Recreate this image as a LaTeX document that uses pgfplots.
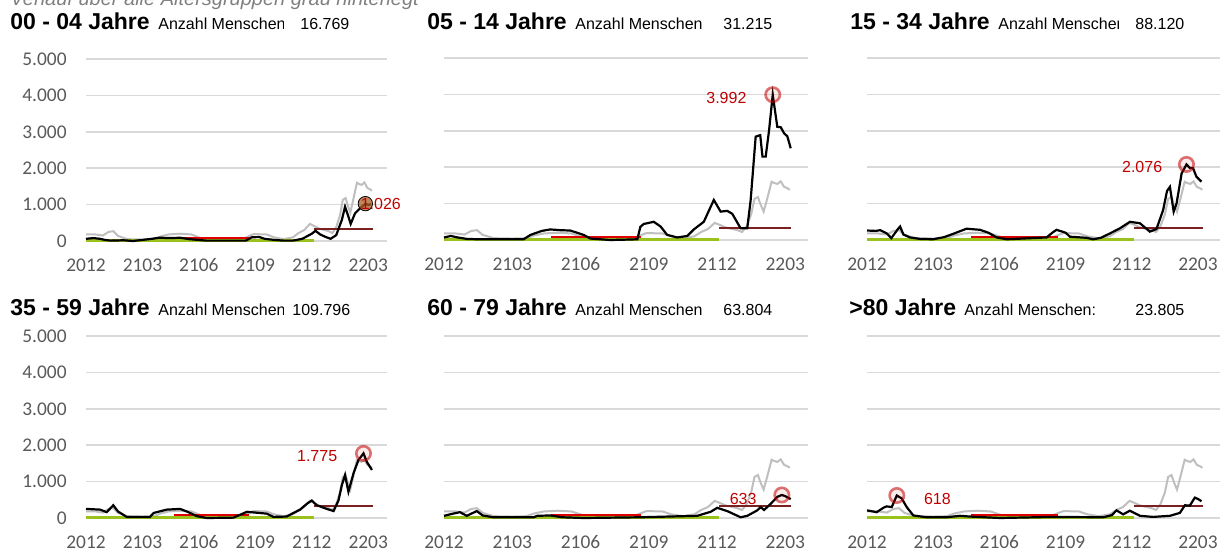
\documentclass[border=0pt]{standalone}
\usepackage{pgfplots}
\pgfplotsset{compat=1.18}
\usepackage{pgfplotstable}
\usepackage{fontspec}
\setmainfont{Liberation Sans}
\newfontfamily\calibri{Carlito}
\definecolor{tickgray}{HTML}{595959}
\definecolor{gridgray}{HTML}{D9D9D9}
\definecolor{avggray}{HTML}{BFBFBF}
\definecolor{lblred}{HTML}{C00000}
\definecolor{thrgreen}{HTML}{9BC21C}
\definecolor{thrred}{HTML}{E00000}
\definecolor{thrmaroon}{HTML}{7B2020}

% Verlauf ueber alle Altersgruppen (grau)
\pgfplotstableread{
x y
0 180
0.5 180
0.9 150
1.2 250
1.45 270
1.7 140
2.2 50
3.0 40
3.6 50
4.0 130
4.4 180
5.0 200
5.6 180
6.1 80
6.5 40
7.5 30
8.3 40
8.6 120
8.9 190
9.6 180
10.0 100
10.5 50
11.0 100
11.3 220
11.6 300
11.9 470
12.1 420
12.4 340
12.9 270
13.1 220
13.3 380
13.5 700
13.65 1130
13.8 1180
13.9 1000
14.05 780
14.2 1120
14.4 1600
14.5 1570
14.65 1540
14.8 1610
14.95 1460
15.1 1420
15.2 1380
}\greydata

\pgfplotsset{
  panel/.style={
    scale only axis, width=#1, height=91bp,
    xmin=0, xmax=16, ymin=0, ymax=5000, clip=false,
    anchor=south west,
    axis line style={draw=none}, tick style={draw=none},
    ymajorgrids, grid style={gridgray, line width=0.8bp},
    xtick={0,3,6,9,12,15}, xticklabels={2012,2103,2106,2109,2112,2203},
    ytick={0,1000,2000,3000,4000,5000},
    yticklabels={},
    xticklabel style={font=\calibri\fontsize{9.7bp}{11bp}\selectfont, text=tickgray, anchor=center, inner sep=0pt, yshift=-12.2bp},
    yticklabel style={font=\calibri\fontsize{9.7bp}{11bp}\selectfont, text=tickgray, anchor=east, inner sep=0pt, xshift=-9.5bp},
  },
  withy/.style={yticklabels={0,1.000,2.000,3.000,4.000,5.000}},
  avg/.style={avggray, line width=1bp},
  main/.style={black, line width=1.1bp},
  peak/.style={only marks, mark=*, mark size=3.6bp,
    mark options={draw=lblred, draw opacity=0.55, line width=1.3bp, fill=lblred, fill opacity=0.08},
    point meta=explicit symbolic, nodes near coords,
    nodes near coords style={font=\fontsize{8bp}{9bp}\selectfont, text=lblred, inner sep=0pt, text opacity=1}},
}

\newcommand{\thresholds}{%
  \addplot[thrgreen, line width=1.5bp] coordinates {(0,25) (12.1,25)};
  \addplot[thrred, line width=1bp] coordinates {(4.7,90) (8.65,90)};
  \addplot[thrmaroon, line width=1bp] coordinates {(12.1,340) (15.25,340)};
}

\newcommand{\tfont}{\bfseries\fontsize{11.5bp}{13bp}\selectfont}
\newcommand{\sfont}{\fontsize{8bp}{10bp}\selectfont}

\begin{document}
\begin{tikzpicture}
\path[use as bounding box] (0,0) rectangle (611.5bp,276bp);

\node[anchor=base west, inner sep=0, font=\itshape\fontsize{10bp}{12bp}\selectfont, text=gray] at (5bp,273bp) {Verlauf über alle Altersgruppen grau hinterlegt};

% ---------- titles top row ----------
\node[anchor=base west, inner sep=0, font=\tfont] at (5bp,261bp) {00 - 04 Jahre};
\begin{scope}\clip (78bp,255bp) rectangle (141.5bp,272bp);
\node[anchor=base west, inner sep=0, font=\sfont] at (79bp,261bp) {Anzahl Menschen};
\end{scope}
\node[anchor=base west, inner sep=0, font=\sfont] at (150bp,261bp) {16.769};

\node[anchor=base west, inner sep=0, font=\tfont] at (213.5bp,261bp) {05 - 14 Jahre};
\node[anchor=base west, inner sep=0, font=\sfont] at (287.5bp,261bp) {Anzahl Menschen};
\node[anchor=base west, inner sep=0, font=\sfont] at (361.5bp,261bp) {31.215};

\node[anchor=base west, inner sep=0, font=\tfont] at (425bp,261bp) {15 - 34 Jahre};
\begin{scope}\clip (498bp,255bp) rectangle (559bp,272bp);
\node[anchor=base west, inner sep=0, font=\sfont] at (499bp,261bp) {Anzahl Menschen};
\end{scope}
\node[anchor=base west, inner sep=0, font=\sfont] at (567.5bp,261bp) {88.120};

% ---------- titles bottom row ----------
\node[anchor=base west, inner sep=0, font=\tfont] at (5bp,118bp) {35 - 59 Jahre};
\begin{scope}\clip (78bp,112bp) rectangle (141.5bp,129bp);
\node[anchor=base west, inner sep=0, font=\sfont] at (79bp,118bp) {Anzahl Menschen};
\end{scope}
\node[anchor=base west, inner sep=0, font=\sfont] at (146bp,118bp) {109.796};

\node[anchor=base west, inner sep=0, font=\tfont] at (213.5bp,118bp) {60 - 79 Jahre};
\node[anchor=base west, inner sep=0, font=\sfont] at (287.5bp,118bp) {Anzahl Menschen};
\node[anchor=base west, inner sep=0, font=\sfont] at (361.5bp,118bp) {63.804};

\node[anchor=base west, inner sep=0, font=\tfont] at (424.5bp,118bp) {>80 Jahre};
\node[anchor=base west, inner sep=0, font=\sfont] at (482bp,118bp) {Anzahl Menschen:};
\node[anchor=base west, inner sep=0, font=\sfont] at (567.5bp,118bp) {23.805};

% ---------- panel 1: 00-04 ----------
\begin{axis}[panel=150.5bp, withy, at={(43bp,155.5bp)}]
\addplot[avg] table {\greydata};
\thresholds
\addplot[main] coordinates {(0,60) (0.4,80) (0.75,60) (1.0,30) (1.3,10) (2.0,20) (2.5,0) (3.0,30) (3.5,60) (3.9,90) (4.5,80) (5.0,90) (5.5,50) (6.4,10) (7.5,10) (8.5,10) (8.8,100) (9.2,110) (9.5,60) (10.0,30) (10.5,10) (11.0,10) (11.5,60) (12.0,200) (12.2,280) (12.45,180) (12.7,120) (13.0,60) (13.3,160) (13.6,580) (13.77,940) (13.95,670) (14.07,470) (14.3,760) (14.57,900) (14.85,1026) (15.0,990) (15.15,1010)};
\addplot[peak, mark options={fill={rgb,255:red,170;green,95;blue,40}, fill opacity=0.75}, nodes near coords style={anchor=west, xshift=-2.5bp}] coordinates {(14.85,1026) [1.026]};
\end{axis}

% ---------- panel 2: 05-14 ----------
\begin{axis}[panel=182bp, at={(222bp,156bp)}]
\addplot[avg] table {\greydata};
\thresholds
\addplot[main] coordinates {(0,70) (0.3,110) (0.6,70) (1.0,30) (1.5,20) (2.5,20) (3.5,20) (3.8,140) (4.3,250) (4.67,290) (5.1,270) (5.55,260) (6.14,140) (6.43,40) (7.3,0) (8.0,10) (8.5,20) (8.63,360) (8.78,440) (9.22,500) (9.52,370) (9.81,140) (10.25,70) (10.69,110) (10.98,290) (11.42,500) (11.86,1100) (12.16,780) (12.45,800) (12.67,720) (13.04,320) (13.33,320) (13.48,1100) (13.7,2840) (13.9,2880) (14.0,2290) (14.14,2290) (14.29,3020) (14.45,3992) (14.65,3110) (14.8,3100) (14.95,2930) (15.09,2850) (15.24,2520)};
\addplot[peak, nodes near coords style={anchor=east, xshift=-12.5bp, yshift=-1.5bp}] coordinates {(14.45,3992) [3.992]};
\end{axis}

% ---------- panel 3: 15-34 ----------
\begin{axis}[panel=176.5bp, at={(433.5bp,156bp)}]
\addplot[avg] table {\greydata};
\thresholds
\addplot[main] coordinates {(0,260) (0.4,250) (0.6,270) (0.9,180) (1.1,50) (1.4,300) (1.5,370) (1.65,150) (1.95,70) (2.4,30) (3.0,20) (3.5,80) (3.91,170) (4.51,310) (5.12,280) (5.5,200) (5.88,70) (6.33,20) (8.14,70) (8.4,200) (8.59,280) (9.0,200) (9.2,90) (9.95,60) (10.25,20) (10.6,60) (11.01,180) (11.46,320) (11.92,500) (12.37,460) (12.82,230) (13.12,300) (13.42,820) (13.6,1350) (13.73,1460) (13.9,780) (14.03,1000) (14.26,1830) (14.48,2076) (14.63,1980) (14.78,1970) (14.93,1740) (15.16,1600)};
\addplot[peak, nodes near coords style={anchor=east, xshift=-11.5bp, yshift=-1.5bp}] coordinates {(14.48,2076) [2.076]};
\end{axis}

% ---------- panel 4: 35-59 ----------
\begin{axis}[panel=150.5bp, withy, at={(43bp,17bp)}]
\addplot[avg] table {\greydata};
\thresholds
\addplot[main] coordinates {(0,250) (0.75,230) (1.1,160) (1.45,350) (1.7,180) (2.16,30) (3.4,30) (3.6,140) (4.29,230) (5.0,250) (5.4,170) (5.89,50) (6.42,0) (7.84,10) (8.55,170) (9.61,120) (9.96,30) (10.67,40) (11.03,140) (11.38,230) (11.74,390) (12.0,480) (12.27,350) (12.8,250) (13.16,190) (13.42,480) (13.6,900) (13.77,1180) (13.95,720) (14.22,1230) (14.48,1590) (14.75,1775) (14.93,1540) (15.2,1320)};
\addplot[peak, nodes near coords style={anchor=east, xshift=-12.5bp, yshift=-1.5bp}] coordinates {(14.75,1775) [1.775]};
\end{axis}

% ---------- panel 5: 60-79 ----------
\begin{axis}[panel=182bp, at={(222bp,17bp)}]
\addplot[avg] table {\greydata};
\thresholds
\addplot[main] coordinates {(0,60) (0.4,120) (0.7,160) (1.0,60) (1.44,190) (1.7,70) (2.17,20) (3.94,20) (4.1,60) (4.67,70) (5.2,20) (6.14,0) (8.63,20) (11.13,60) (11.72,170) (12.01,280) (12.45,190) (13.04,20) (13.33,60) (13.77,210) (13.92,300) (14.07,220) (14.36,390) (14.65,580) (14.85,633) (15.0,600) (15.24,520)};
\addplot[peak, nodes near coords style={anchor=east, xshift=-12bp, yshift=-2bp}] coordinates {(14.85,633) [633]};
\end{axis}

% ---------- panel 6: >80 ----------
\begin{axis}[panel=176.5bp, at={(433.5bp,17bp)}]
\addplot[avg] table {\greydata};
\thresholds
\addplot[main] coordinates {(0,210) (0.44,160) (0.74,280) (0.89,320) (1.12,300) (1.35,618) (1.57,540) (1.8,300) (2.1,70) (2.7,20) (3.61,20) (4.21,60) (4.66,40) (6.02,0) (8.44,30) (10.71,20) (11.1,80) (11.31,210) (11.61,100) (11.91,200) (12.37,60) (12.97,30) (13.73,60) (14.18,140) (14.41,350) (14.63,340) (14.86,560) (15.01,520) (15.16,460)};
\addplot[peak, nodes near coords style={anchor=west, xshift=13bp, yshift=-1.5bp}] coordinates {(1.35,618) [618]};
\end{axis}
\end{tikzpicture}
\end{document}
